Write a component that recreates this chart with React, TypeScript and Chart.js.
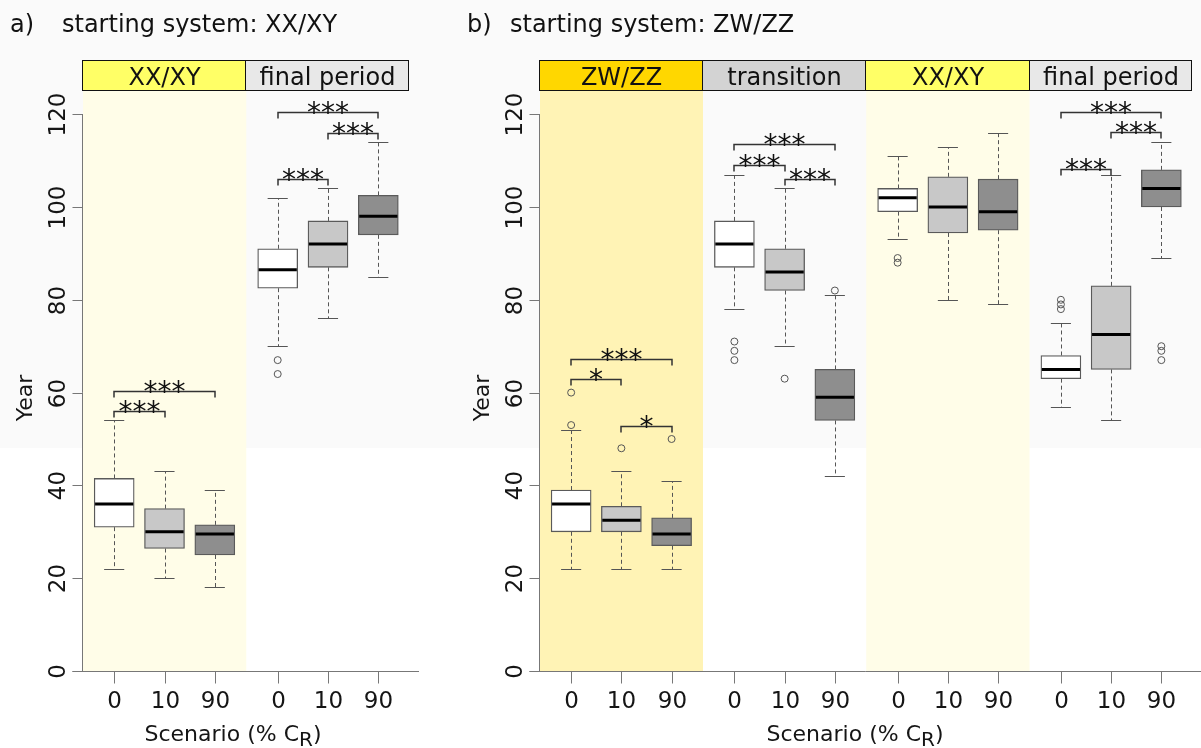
import React, { useEffect, useRef } from 'react';
import { Chart, registerables } from 'chart.js';

Chart.register(...registerables);

const FONT = '"DejaVu Sans", "Liberation Sans", sans-serif';

// ---------- shared ----------
const scenarioLabels = ['0', '10', '90'];
const yTicks = [0, 20, 40, 60, 80, 100, 120];
const yMax = 125;

// ---------- panel a: starting system XX/XY ----------
const aPeriods = ['XX/XY', 'final period'];
const aLow = [22, 20, 18, 70, 76, 85];
const aQ1 = [31, 26.4, 25, 82.5, 87, 94];
const aMedian = [36, 30, 29.5, 86.5, 92, 98];
const aQ3 = [41.5, 35, 31.5, 91, 97, 102.5];
const aHigh = [54, 43, 39, 102, 104, 114];
const aOutlierBox = [3, 3];
const aOutlierValue = [67, 64];
const aBracketFrom = [0, 0, 3, 4, 3];
const aBracketTo = [1, 2, 4, 5, 5];
const aBracketLevel = [56, 60.3, 106, 116, 120.4];
const aBracketLabel = ['***', '***', '***', '***', '***'];

// ---------- panel b: starting system ZW/ZZ ----------
const bPeriods = ['ZW/ZZ', 'transition', 'XX/XY', 'final period'];
const bLow = [22, 22, 22, 78, 70, 42, 93, 80, 79, 57, 54, 89];
const bQ1 = [30, 30, 27, 87, 82, 54, 99, 94.4, 95, 63, 65, 100];
const bMedian = [36, 32.5, 29.5, 92, 86, 59, 102, 100, 99, 65, 72.5, 104];
const bQ3 = [39, 35.5, 33, 97, 91, 65, 104, 106.5, 106, 68, 83, 108];
const bHigh = [52, 43, 41, 107, 104, 81, 111, 113, 116, 75, 107, 114];
const bOutlierBox = [0, 0, 1, 2, 3, 3, 3, 4, 5, 6, 6, 9, 9, 9, 11, 11, 11];
const bOutlierValue = [53, 60, 48, 50, 71, 69, 67, 63, 82, 88, 89, 78, 79, 80, 67, 69, 70];
const bBracketFrom = [0, 0, 1, 3, 3, 4, 9, 10, 9];
const bBracketTo = [1, 2, 2, 4, 5, 5, 10, 11, 11];
const bBracketLevel = [62.9, 67.2, 52.9, 109, 113.5, 106.1, 108.2, 116.1, 120.4];
const bBracketLabel = ['*', '***', '*', '***', '***', '***', '***', '***', '***'];

// ---------- styling ----------
const boxFills = ['#FFFFFF', '#C8C8C8', '#8E8E8E'];
const GROUP_STEP = 3.25;
const boxX = (i: number) => 1 + Math.floor(i / 3) * GROUP_STEP + (i % 3);

type Spec = {
  id: string;
  canvasLeft: number;
  canvasWidth: number;
  pad: { left: number; right: number; top: number; bottom: number };
  tag: string;
  title: string;
  tagX: number;
  titleX: number;
  xLabelCenter: number;
  periods: string[];
  headerColors: string[];
  shadeColors: (string | null)[];
  low: number[];
  q1: number[];
  med: number[];
  q3: number[];
  high: number[];
  outBox: number[];
  outVal: number[];
  brFrom: number[];
  brTo: number[];
  brLevel: number[];
  brLabel: string[];
};

const panels: Spec[] = [
  {
    id: 'a',
    canvasLeft: 0,
    canvasWidth: 450,
    pad: { left: 83, right: 41, top: 91, bottom: 77 },
    tag: 'a)',
    title: 'starting system: XX/XY',
    tagX: 10,
    titleX: 62,
    xLabelCenter: 233,
    periods: aPeriods,
    headerColors: ['#FFFF66', '#E8E8E8'],
    shadeColors: ['#FFFDE8', null],
    low: aLow, q1: aQ1, med: aMedian, q3: aQ3, high: aHigh,
    outBox: aOutlierBox, outVal: aOutlierValue,
    brFrom: aBracketFrom, brTo: aBracketTo, brLevel: aBracketLevel, brLabel: aBracketLabel,
  },
  {
    id: 'b',
    canvasLeft: 450,
    canvasWidth: 751,
    pad: { left: 90, right: 9, top: 91, bottom: 77 },
    tag: 'b)',
    title: 'starting system: ZW/ZZ',
    tagX: 17,
    titleX: 60,
    xLabelCenter: 405,
    periods: bPeriods,
    headerColors: ['#FFD700', '#D3D3D3', '#FFFF66', '#E8E8E8'],
    shadeColors: ['#FFF3B5', null, '#FFFDE8', null],
    low: bLow, q1: bQ1, med: bMedian, q3: bQ3, high: bHigh,
    outBox: bOutlierBox, outVal: bOutlierValue,
    brFrom: bBracketFrom, brTo: bBracketTo, brLevel: bBracketLevel, brLabel: bBracketLabel,
  },
];

function periodBounds(nGroups: number): number[] {
  const b: number[] = [1 - 0.62];
  for (let g = 1; g < nGroups; g++) b.push(1 + g * GROUP_STEP - 0.625);
  b.push(1 + (nGroups - 1) * GROUP_STEP + 2 + 0.61);
  return b;
}

function makeDecor(p: Spec) {
  const bounds = periodBounds(p.periods.length);
  return {
    id: 'decor_' + p.id,
    beforeDraw(chart: any) {
      const { ctx, width, height } = chart;
      ctx.save();
      ctx.fillStyle = '#FFFFFF';
      ctx.fillRect(0, 0, width, height);
      ctx.fillStyle = '#FAFAFA';
      ctx.fillRect(0, 0, width, 448);
      ctx.restore();
    },
    beforeDatasetsDraw(chart: any) {
      const { ctx, chartArea: ca } = chart;
      const xs = chart.scales.x;
      const ys = chart.scales.y;
      ctx.save();
      // period shading
      p.periods.forEach((_, g) => {
        const c = p.shadeColors[g];
        if (!c) return;
        const x0 = xs.getPixelForValue(bounds[g]);
        const x1 = xs.getPixelForValue(bounds[g + 1]);
        ctx.fillStyle = c;
        ctx.fillRect(x0, ca.top, x1 - x0, ca.bottom - ca.top);
      });
      // header boxes
      const hTop = ca.top - 31;
      p.periods.forEach((name, g) => {
        const x0 = Math.round(xs.getPixelForValue(bounds[g]));
        const x1 = Math.round(xs.getPixelForValue(bounds[g + 1]));
        ctx.fillStyle = p.headerColors[g];
        ctx.fillRect(x0, hTop, x1 - x0, 31);
        ctx.strokeStyle = '#111';
        ctx.lineWidth = 1;
        ctx.strokeRect(x0 - 0.5, hTop + 0.5, x1 - x0, 30);
        ctx.fillStyle = '#111';
        ctx.font = `24px ${FONT}`;
        ctx.textAlign = 'center';
        ctx.textBaseline = 'alphabetic';
        ctx.fillText(name, (x0 + x1) / 2, ca.top - 6);
      });
      // title
      ctx.fillStyle = '#111';
      ctx.font = `24px ${FONT}`;
      ctx.textAlign = 'left';
      ctx.fillText(p.tag, p.tagX, 32);
      ctx.fillText(p.title, p.titleX, 32);

      // axes
      const axisColor = '#777';
      ctx.strokeStyle = axisColor;
      ctx.lineWidth = 1;
      const ax = Math.round(ca.left) - 0.5;
      ctx.beginPath();
      ctx.moveTo(ax, Math.round(ys.getPixelForValue(0)) + 0.5);
      ctx.lineTo(ax, Math.round(ys.getPixelForValue(120)));
      ctx.stroke();
      ctx.fillStyle = '#151515';
      ctx.font = `23px ${FONT}`;
      yTicks.forEach((v) => {
        const py = Math.round(ys.getPixelForValue(v)) + 0.5;
        ctx.beginPath();
        ctx.moveTo(ax - 10, py);
        ctx.lineTo(ax, py);
        ctx.stroke();
        ctx.save();
        ctx.translate(ca.left - 18, py);
        ctx.rotate(-Math.PI / 2);
        ctx.textAlign = 'center';
        ctx.textBaseline = 'alphabetic';
        ctx.fillText(String(v), 0, 0);
        ctx.restore();
      });
      const by = Math.round(ca.bottom) + 0.5;
      ctx.beginPath();
      ctx.moveTo(ax - 10, by);
      ctx.lineTo(ca.right + 10, by);
      ctx.stroke();
      p.low.forEach((_, i) => {
        const px = Math.round(xs.getPixelForValue(boxX(i))) + 0.5;
        ctx.beginPath();
        ctx.moveTo(px, by);
        ctx.lineTo(px, by + 12);
        ctx.stroke();
        ctx.textAlign = 'center';
        ctx.textBaseline = 'alphabetic';
        ctx.fillText(scenarioLabels[i % 3], px, ca.bottom + 37);
      });
      // axis titles
      ctx.font = `22px ${FONT}`;
      ctx.save();
      ctx.translate(ca.left - 51, (ca.top + ca.bottom) / 2 + 17);
      ctx.rotate(-Math.PI / 2);
      ctx.textAlign = 'center';
      ctx.fillText('Year', 0, 0);
      ctx.restore();
      const main = 'Scenario (% C';
      ctx.font = `22px ${FONT}`;
      const w1 = ctx.measureText(main).width;
      ctx.font = `20px ${FONT}`;
      const w2 = ctx.measureText('R').width;
      ctx.font = `22px ${FONT}`;
      const w3 = ctx.measureText(')').width;
      let sx = p.xLabelCenter - (w1 + w2 + w3) / 2;
      const base = ca.bottom + 70;
      ctx.textAlign = 'left';
      ctx.fillText(main, sx, base);
      sx += w1;
      ctx.font = `20px ${FONT}`;
      ctx.fillText('R', sx, base + 5);
      sx += w2;
      ctx.font = `22px ${FONT}`;
      ctx.fillText(')', sx, base);

      // whiskers
      ctx.strokeStyle = '#555';
      ctx.lineWidth = 1;
      p.low.forEach((_, i) => {
        const cx = Math.round(xs.getPixelForValue(boxX(i))) + 0.5;
        const capL = xs.getPixelForValue(boxX(i) - 0.2);
        const capR = xs.getPixelForValue(boxX(i) + 0.2);
        const yLow = Math.round(ys.getPixelForValue(p.low[i])) + 0.5;
        const yHigh = Math.round(ys.getPixelForValue(p.high[i])) + 0.5;
        const yQ1 = ys.getPixelForValue(p.q1[i]);
        const yQ3 = ys.getPixelForValue(p.q3[i]);
        ctx.setLineDash([4, 3]);
        ctx.beginPath();
        ctx.moveTo(cx, yQ3);
        ctx.lineTo(cx, yHigh);
        ctx.moveTo(cx, yQ1);
        ctx.lineTo(cx, yLow);
        ctx.stroke();
        ctx.setLineDash([]);
        ctx.beginPath();
        ctx.moveTo(capL, yHigh);
        ctx.lineTo(capR, yHigh);
        ctx.moveTo(capL, yLow);
        ctx.lineTo(capR, yLow);
        ctx.stroke();
      });
      ctx.restore();
    },
    afterDatasetsDraw(chart: any) {
      const { ctx } = chart;
      const xs = chart.scales.x;
      const ys = chart.scales.y;
      ctx.save();
      // medians
      ctx.strokeStyle = '#000';
      ctx.lineWidth = 3;
      p.med.forEach((m, i) => {
        const x0 = xs.getPixelForValue(boxX(i) - 0.4) + 1;
        const x1 = xs.getPixelForValue(boxX(i) + 0.4) - 1;
        const py = ys.getPixelForValue(m);
        ctx.beginPath();
        ctx.moveTo(x0, py);
        ctx.lineTo(x1, py);
        ctx.stroke();
      });
      // significance brackets
      ctx.strokeStyle = '#333';
      ctx.lineWidth = 1.5;
      ctx.fillStyle = '#111';
      ctx.font = `28px ${FONT}`;
      ctx.textAlign = 'center';
      ctx.textBaseline = 'alphabetic';
      p.brLevel.forEach((lv, k) => {
        const x0 = Math.round(xs.getPixelForValue(boxX(p.brFrom[k])));
        const x1 = Math.round(xs.getPixelForValue(boxX(p.brTo[k])));
        const py = Math.round(ys.getPixelForValue(lv)) + 0.5;
        ctx.beginPath();
        ctx.moveTo(x0, py + 6);
        ctx.lineTo(x0, py);
        ctx.lineTo(x1, py);
        ctx.lineTo(x1, py + 6);
        ctx.stroke();
        ctx.fillText(p.brLabel[k], (x0 + x1) / 2, py + 9);
      });
      ctx.restore();
    },
  };
}

function Panel({ p }: { p: Spec }) {
  const ref = useRef<HTMLCanvasElement | null>(null);
  useEffect(() => {
    if (!ref.current) return;
    const n = p.low.length;
    const xMin = 1 - 0.62;
    const xMax = boxX(n - 1) + 0.61;
    const chart = new Chart(ref.current, {
      type: 'bar',
      data: {
        datasets: [
          {
            type: 'scatter',
            label: 'outliers',
            data: p.outBox.map((b, i) => ({ x: boxX(b), y: p.outVal[i] })),
            pointStyle: 'circle',
            pointRadius: 3.5,
            pointBorderWidth: 1,
            borderColor: '#555',
            backgroundColor: 'rgba(0,0,0,0)',
            order: 1,
          } as any,
          {
            type: 'bar',
            label: 'boxes',
            data: p.q1.map((v, i) => ({ x: boxX(i), y: [v, p.q3[i]] })),
            backgroundColor: p.q1.map((_, i) => boxFills[i % 3]),
            borderColor: '#5a5a5a',
            borderWidth: 1.3,
            borderSkipped: false,
            barThickness: 40,
            grouped: false,
            order: 2,
          } as any,
        ],
      },
      options: {
        animation: false,
        responsive: false,
        maintainAspectRatio: false,
        layout: { padding: p.pad },
        plugins: { legend: { display: false }, tooltip: { enabled: false } },
        scales: {
          x: { type: 'linear', min: xMin, max: xMax, offset: false, display: false, bounds: 'ticks' },
          y: { type: 'linear', min: 0, max: yMax, display: false },
        },
      },
      plugins: [makeDecor(p)],
    } as any);
    return () => chart.destroy();
  }, [p]);
  return (
    <canvas
      ref={ref}
      width={p.canvasWidth}
      height={748}
      style={{ position: 'absolute', left: p.canvasLeft, top: 0, width: p.canvasWidth, height: 748, display: 'block' }}
    />
  );
}

export default function App() {
  return (
    <div style={{ position: 'absolute', left: 0, top: 0, width: 1201, height: 748, background: '#fff', overflow: 'hidden' }}>
      {panels.map((p) => (
        <Panel key={p.id} p={p} />
      ))}
    </div>
  );
}
